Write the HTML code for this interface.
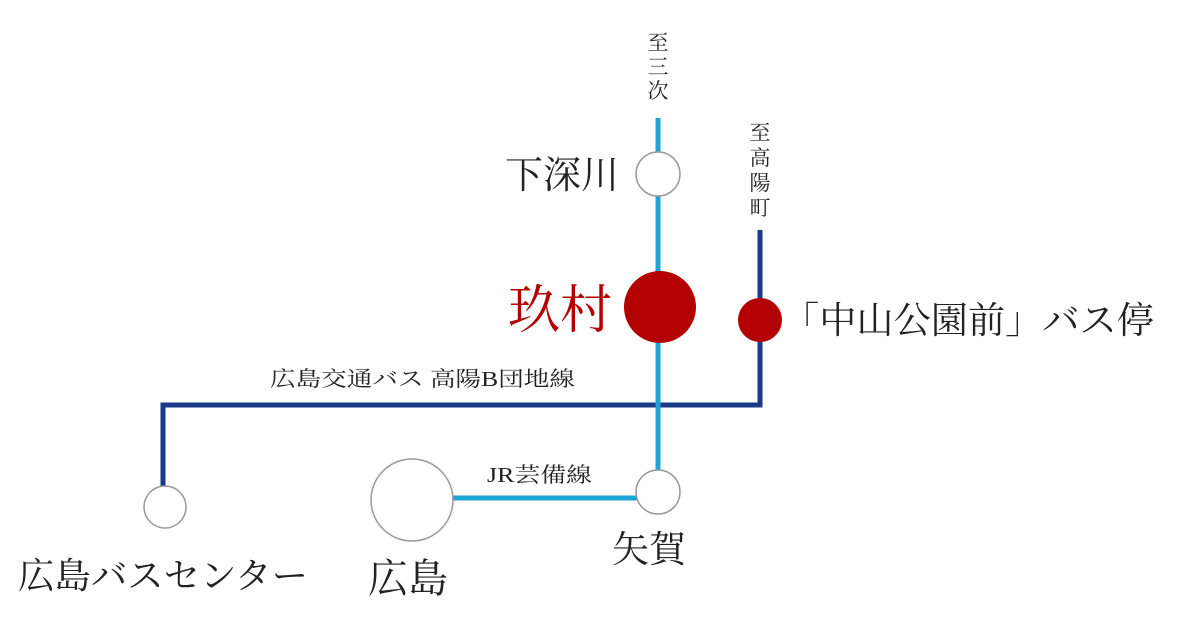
<!DOCTYPE html>
<html><head><meta charset="utf-8"><style>
body{margin:0;background:#fff;width:1200px;height:626px;overflow:hidden}
svg text{font-family:"Liberation Serif","Noto Serif CJK SC","Noto Sans CJK JP",serif;fill:#222}
</style></head><body>
<svg width="1200" height="626" viewBox="0 0 1200 626">
<g stroke="#1c3a8a" stroke-width="5" fill="none">
<polyline points="760,230 760,405 163,405 163,490"/>
</g>
<g stroke="#1ea5d6" stroke-width="5" fill="none">
<line x1="658" y1="118" x2="658" y2="475"/>
<line x1="450" y1="498" x2="640" y2="498"/>
</g>
<g fill="#fff" stroke="#999" stroke-width="1.5">
<circle cx="658" cy="174" r="22"/>
<circle cx="658" cy="492" r="22"/>
<circle cx="165" cy="507" r="21"/>
<circle cx="412" cy="500" r="41"/>
</g>
<circle cx="660" cy="307" r="36" fill="#b30000"/>
<circle cx="760" cy="320" r="22" fill="#b30000"/>
<g font-size="21" text-anchor="middle">
<text x="658" y="50">至</text><text x="658" y="74">三</text><text x="658" y="98">次</text>
<text x="760" y="140">至</text><text x="760" y="165">高</text><text x="760" y="190">陽</text><text x="760" y="215">町</text>
</g>
<text x="505" y="188" font-size="38">下深川</text>
<text x="508" y="328" font-size="52" style="fill:#b30000">玖村</text>
<text x="782" y="333" font-size="37" textLength="372" lengthAdjust="spacingAndGlyphs">「中山公園前」バス停</text>
<text x="270" y="386" font-size="21" textLength="305" lengthAdjust="spacingAndGlyphs">広島交通バス 高陽B団地線</text>
<text x="487" y="482" font-size="21" textLength="105" lengthAdjust="spacingAndGlyphs">JR芸備線</text>
<text x="612" y="562" font-size="37">矢賀</text>
<text x="368" y="592" font-size="40">広島</text>
<text x="18" y="588" font-size="36" textLength="290" lengthAdjust="spacingAndGlyphs">広島バスセンター</text>
</svg>
</body></html>
